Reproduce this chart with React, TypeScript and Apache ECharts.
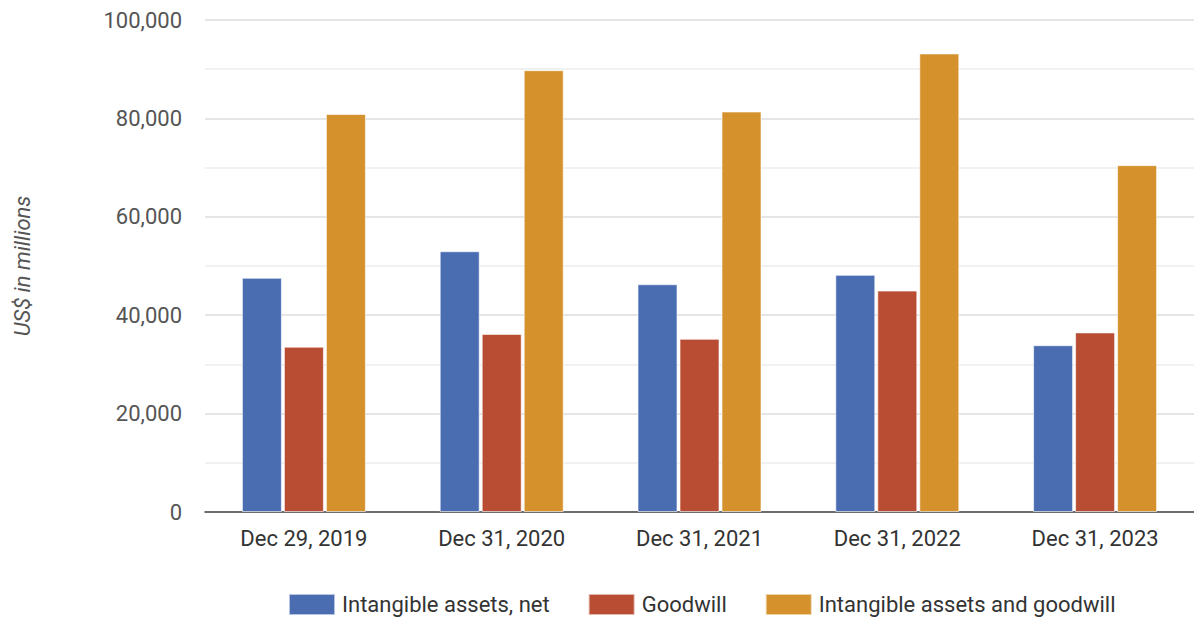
import React, { useEffect, useRef } from "react";
import * as echarts from "echarts";

const categories = ["Dec 29, 2019", "Dec 31, 2020", "Dec 31, 2021", "Dec 31, 2022", "Dec 31, 2023"];
const intangibleNet = [47600, 53000, 46300, 48200, 33900];
const goodwill = [33600, 36200, 35200, 45000, 36500];
const intangibleAndGoodwill = [80900, 89800, 81400, 93200, 70500];
const seriesNames = ["Intangible assets, net", "Goodwill", "Intangible assets and goodwill"];
const colors = ["#4A6DB2", "#B94D33", "#D4912C"];

export default function App() {
  const ref = useRef<HTMLDivElement>(null);
  useEffect(() => {
    if (!ref.current) return;
    const chart = echarts.init(ref.current, undefined, { renderer: "svg" });
    const font = "Roboto, sans-serif";
    const mk = (name: string, data: number[], color: string) => ({
      name,
      type: "bar",
      data,
      barWidth: 40,
      barGap: "5%",
      itemStyle: { color, borderColor: "rgba(255,255,255,0.6)", borderWidth: 1 },
    });
    chart.setOption({
      animation: false,
      textStyle: { fontFamily: font },
      color: colors,
      grid: { left: 205, top: 20, width: 998, height: 492 },
      legend: {
        left: 288,
        top: 593,
        padding: 0,
        itemWidth: 46,
        itemHeight: 21,
        itemGap: 38,
        icon: "rect",
        textStyle: { fontSize: 22, color: "#333", fontFamily: font, padding: [0, 0, 0, 2] },
        data: seriesNames,
      },
      xAxis: {
        type: "category",
        data: categories,
        axisTick: { show: false },
        axisLine: { lineStyle: { color: "#444", width: 1.5 } },
        axisLabel: { fontSize: 22, color: "#333", margin: 15, fontFamily: font },
      },
      yAxis: {
        type: "value",
        min: 0,
        max: 100000,
        interval: 20000,
        name: "US$ in millions",
        nameLocation: "middle",
        nameGap: 172,
        nameRotate: 90,
        nameTextStyle: { fontSize: 22, color: "#555", fontStyle: "italic", fontFamily: font },
        axisLabel: {
          fontSize: 22,
          color: "#555",
          margin: 23,
          fontFamily: font,
          formatter: (v: number) => v.toLocaleString("en-US"),
        },
        axisLine: { show: false },
        axisTick: { show: false },
        splitLine: { lineStyle: { color: "#dcdcdc", width: 1.5 } },
        minorTick: { show: false, splitNumber: 2 },
        minorSplitLine: { show: true, lineStyle: { color: "#ececec", width: 1.5 } },
      },
      series: [
        mk(seriesNames[0], intangibleNet, colors[0]),
        mk(seriesNames[1], goodwill, colors[1]),
        mk(seriesNames[2], intangibleAndGoodwill, colors[2]),
      ],
    });
    return () => chart.dispose();
  }, []);
  return (
    <div
      ref={ref}
      style={{ position: "fixed", left: 0, top: 0, width: 1194, height: 621, background: "#fff" }}
    />
  );
}
